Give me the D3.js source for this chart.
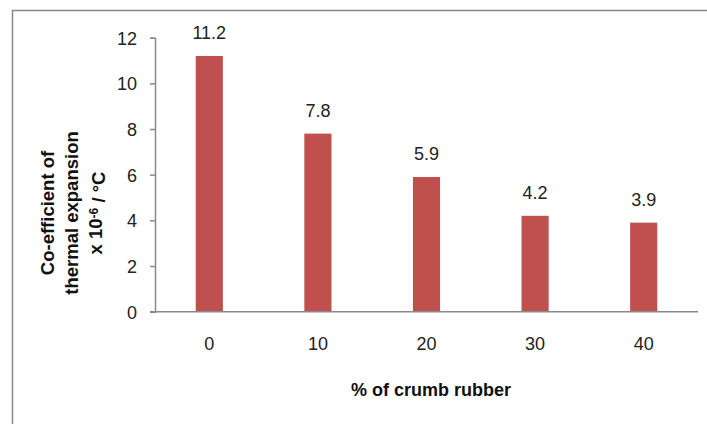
<!DOCTYPE html>
<html>
<head>
<meta charset="utf-8">
<script src="https://cdn.jsdelivr.net/npm/d3@7"></script>
<style>
  body { margin: 0; background: #fff; }
  text { font-family: "Liberation Sans", Arial, sans-serif; }
</style>
</head>
<body>
<svg id="canvas" width="707" height="424"></svg>
<script>
// crumb rubber content vs thermal expansion coefficient
var categories = ["0", "10", "20", "30", "40"];
var values = [11.2, 7.8, 5.9, 4.2, 3.9];
var yTicks = [0, 2, 4, 6, 8, 10, 12];

var svg = d3.select("#canvas");
var margin = { left: 155, right: 9, top: 37.7, bottom: 112.3 };
var W = +svg.attr("width"), H = +svg.attr("height");

// chart frame (only left and top edges show in the picture)
svg.append("path")
    .attr("d", "M12.5,424 V10.5 H707")
    .attr("fill", "none")
    .attr("stroke", "#8a8a8a")
    .attr("stroke-width", 1.5);

var x = d3.scaleBand()
    .domain(categories)
    .range([margin.left, W - margin.right])
    .paddingInner(0.75)
    .paddingOuter(0.375);

var y = d3.scaleLinear()
    .domain([0, 12])
    .range([H - margin.bottom, margin.top]);

// bars
svg.selectAll(".bar")
    .data(values)
    .enter().append("rect")
    .attr("class", "bar")
    .attr("x", function(d, i) { return x(categories[i]); })
    .attr("width", x.bandwidth())
    .attr("y", function(d) { return y(d); })
    .attr("height", function(d) { return y(0) - y(d); })
    .attr("fill", "#c0504d");

// value labels
svg.selectAll(".val")
    .data(values)
    .enter().append("text")
    .attr("class", "val")
    .attr("x", function(d, i) { return x(categories[i]) + x.bandwidth() / 2; })
    .attr("y", function(d) { return y(d) - 17; })
    .attr("text-anchor", "middle")
    .attr("font-size", 18)
    .attr("fill", "#222")
    .text(function(d) { return d.toFixed(1); });

// y axis
var yAxis = svg.append("g")
    .attr("transform", "translate(" + margin.left + ",0)")
    .call(d3.axisLeft(y).tickValues(yTicks).tickSize(5).tickPadding(13));
yAxis.selectAll("text").attr("font-size", 18).attr("fill", "#222").attr("dy", "0.36em");
yAxis.selectAll("line, path").attr("stroke", "#8a8a8a").attr("stroke-width", 1.5);

// x axis (no tick marks)
var xAxis = svg.append("g")
    .attr("transform", "translate(0," + y(0) + ")")
    .call(d3.axisBottom(x).tickSize(0).tickPadding(26).tickSizeOuter(0));
xAxis.selectAll("text").attr("font-size", 18).attr("fill", "#222");
xAxis.select("path").attr("stroke", "#8a8a8a").attr("stroke-width", 1.5)
    .attr("d", "M" + (margin.left - 5) + ",0H" + (W - margin.right));

// x title
svg.append("text")
    .attr("x", 431)
    .attr("y", 396)
    .attr("text-anchor", "middle")
    .attr("font-size", 18)
    .attr("font-weight", "bold")
    .attr("fill", "#111")
    .text("% of crumb rubber");

// y title, three lines rotated
var yt = svg.append("text")
    .attr("transform", "translate(72,213) rotate(-90)")
    .attr("text-anchor", "middle")
    .attr("font-size", 18.5)
    .attr("font-weight", "bold")
    .attr("fill", "#111");
yt.append("tspan").attr("x", 0).attr("y", -24).attr("dy", "0.35em").text("Co-efficient of");
yt.append("tspan").attr("x", 0).attr("y", 0).attr("dy", "0.35em").text("thermal expansion");
var l3 = yt.append("tspan").attr("x", 0).attr("y", 24).attr("dy", "0.35em");
l3.text("x 10");
yt.append("tspan").attr("dy", "-0.4em").attr("font-size", 12).text("-6");
yt.append("tspan").attr("dy", "0.4em").text(" / °C");
</script>
</body>
</html>
